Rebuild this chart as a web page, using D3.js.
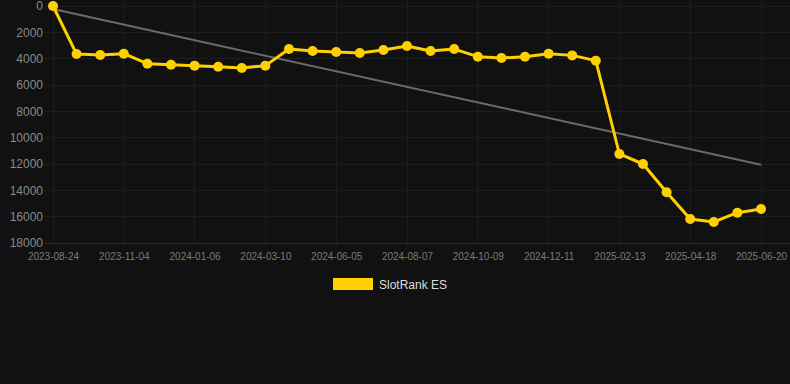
<!DOCTYPE html>
<html><head><meta charset="utf-8">
<script src="https://cdn.jsdelivr.net/npm/d3@7"></script>
<style>html,body{margin:0;padding:0;background:#111111;}svg{display:block;}</style>
</head><body>
<svg id="chart" width="790" height="384"></svg>
<script>
const dates = ["2023-08-24","2023-09-17","2023-10-11","2023-11-04","2023-11-25","2023-12-16","2024-01-06","2024-01-27","2024-02-18","2024-03-10","2024-04-08","2024-05-07","2024-06-05","2024-06-26","2024-07-17","2024-08-07","2024-08-28","2024-09-18","2024-10-09","2024-10-30","2024-11-20","2024-12-11","2025-01-01","2025-01-23","2025-02-13","2025-03-06","2025-03-27","2025-04-18","2025-05-09","2025-05-30","2025-06-20"];
const rankES = [0,3650,3720,3620,4380,4460,4530,4610,4710,4530,3270,3420,3490,3570,3340,3040,3420,3270,3850,3950,3850,3620,3750,4150,11240,12000,14150,16180,16400,15700,15420];
const trend = [230,12050];
const yTicks = [0,2000,4000,6000,8000,10000,12000,14000,16000,18000];
const seriesName = "SlotRank ES";

const svg = d3.select("#chart");
const mLeft = 53, mRight = 761, mTop = 6, mBottom = 243;
const x = d3.scalePoint().domain(dates).range([mLeft, mRight]);
const y = d3.scaleLinear().domain([0,18000]).range([mTop, mBottom]);
const labelDates = dates.filter((d,i)=>i%3===0);

// grid
const g = svg.append("g");
g.selectAll("line.h").data(yTicks).enter().append("line")
  .attr("x1", 45).attr("x2", 790).attr("y1", d=>y(d)).attr("y2", d=>y(d))
  .attr("stroke", d=>d===18000?"#2a2a2a":"#1d1d1d").attr("stroke-width",1).attr("shape-rendering","crispEdges");
g.selectAll("line.v").data(labelDates).enter().append("line")
  .attr("x1", d=>x(d)).attr("x2", d=>x(d)).attr("y1", 0).attr("y2", mBottom+4)
  .attr("stroke", "#1c1c1c").attr("stroke-width",1).attr("shape-rendering","crispEdges");

// y axis
const yAxis = d3.axisLeft(y).tickValues(yTicks).tickFormat(d3.format("d")).tickSize(0).tickPadding(0);
const ya = svg.append("g").attr("transform","translate(43,0)").call(yAxis);
ya.select(".domain").remove();
ya.selectAll("text").attr("fill","#8a8a8a").style("font-family","'Liberation Sans', Arial, sans-serif").style("font-size","12px");

// x axis
const xAxis = d3.axisBottom(x).tickValues(labelDates).tickSize(0).tickPadding(0);
const xa = svg.append("g").attr("transform",`translate(0,${mBottom+10})`).call(xAxis);
xa.select(".domain").remove();
xa.selectAll("text").attr("fill","#7a7a7a").style("font-family","'Liberation Sans', Arial, sans-serif").style("font-size","10px");

// trend
svg.append("line")
  .attr("x1", x(dates[0])).attr("x2", x(dates[dates.length-1]))
  .attr("y1", y(trend[0])).attr("y2", y(trend[1]))
  .attr("stroke","#6b6b6b").attr("stroke-width",2);

// series
const line = d3.line().x((d,i)=>x(dates[i])).y(d=>y(d));
svg.append("path").datum(rankES).attr("d", line)
  .attr("fill","none").attr("stroke","#FFD000").attr("stroke-width",3).attr("stroke-linejoin","round");
svg.selectAll("circle.p").data(rankES).enter().append("circle")
  .attr("cx",(d,i)=>x(dates[i])).attr("cy",d=>y(d)).attr("r",5).attr("fill","#FFD000");

// legend
svg.append("rect").attr("x",333).attr("y",278).attr("width",40).attr("height",12).attr("fill","#FFD000");
svg.append("text").attr("x",379).attr("y",288.5).text(seriesName)
  .attr("fill","#dddddd").style("font-family","'Liberation Sans', Arial, sans-serif").style("font-size","12px");
</script>
</body></html>
